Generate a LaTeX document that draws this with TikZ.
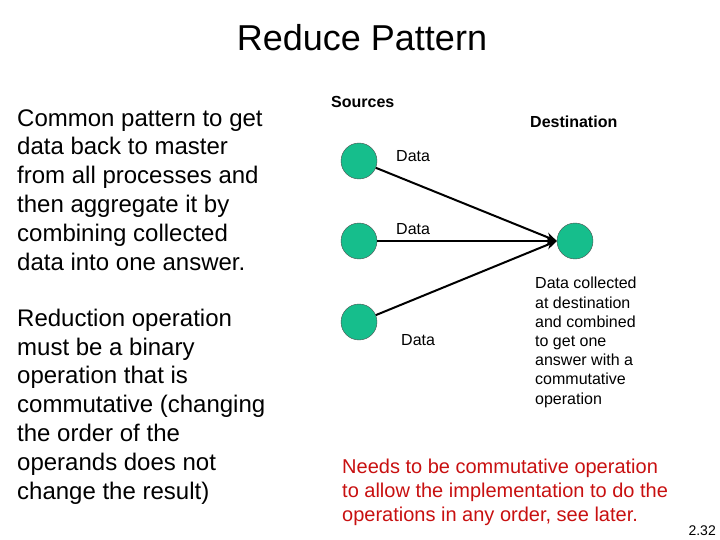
\documentclass[tikz,border=0pt]{standalone}
\usepackage{fontspec}
\setmainfont{Liberation Sans}
\usepackage{xcolor}
\usetikzlibrary{arrows.meta,positioning}
\definecolor{proc}{RGB}{22,190,140}
\definecolor{note}{RGB}{200,16,16}

\tikzset{
  procnode/.style={circle, draw=black!70, fill=proc, minimum size=36pt, inner sep=0pt},
  flow/.style={-{Stealth[length=11pt,width=9pt]}, line width=2pt},
  body/.style={anchor=base west, align=left, inner sep=0pt, font=\fontsize{24}{28.8}\selectfont},
  small/.style={anchor=base west, align=left, inner sep=0pt, font=\fontsize{16}{19.2}\selectfont},
  head/.style={anchor=base west, inner sep=0pt, font=\fontsize{16}{19.2}\selectfont\bfseries}
}

\begin{document}
\begin{tikzpicture}[x=1pt, y=-1pt]
  \useasboundingbox (0,0) rectangle (720,540);
  % title
  \node[anchor=base, inner sep=0pt, font=\fontsize{36}{43}\selectfont] (title) at (362,51) {Reduce Pattern};
  % left column (base = last line)
  \node[body] (intro) at (17,270) {Common pattern to get\\data back to master\\from all processes and\\then aggregate it by\\combining collected\\data into one answer.};
  \node[body] (rule) at (17,499) {Reduction operation\\must be a binary\\operation that is\\commutative (changing\\the order of the\\operands does not\\change the result)};
  % processes
  \node[head] (srclab) at (331,108) {Sources};
  \node[head] (dstlab) at (530,128) {Destination};
  \node[procnode] (src1) at (359,161) {};
  \node[procnode] (src2) at (359,241) {};
  \node[procnode] (src3) at (359,322) {};
  \node[procnode] (dst) at (575,241) {};
  \draw[flow] (src1) -- (dst.west);
  \draw[flow] (src2) -- (dst.west);
  \draw[flow] (src3) -- (dst.west);
  \node[small] (data1) at (396,162) {Data};
  \node[small] (data2) at (396,234) {Data};
  \node[small] (data3) at (401,345) {Data};
  \node[small] (collect) at (535,404) {Data collected\\at destination\\and combined\\to get one\\answer with a\\commutative\\operation};
  % remark
  \node[anchor=base west, align=left, inner sep=0pt, text=note, font=\fontsize{20}{24}\selectfont] (remark) at (342,521)
    {Needs to be commutative operation\\to allow the implementation to do the\\operations in any order, see later.};
  \node[anchor=base east, inner sep=0pt, font=\fontsize{14}{16}\selectfont] (page) at (716,535) {2.32};
\end{tikzpicture}
\end{document}
